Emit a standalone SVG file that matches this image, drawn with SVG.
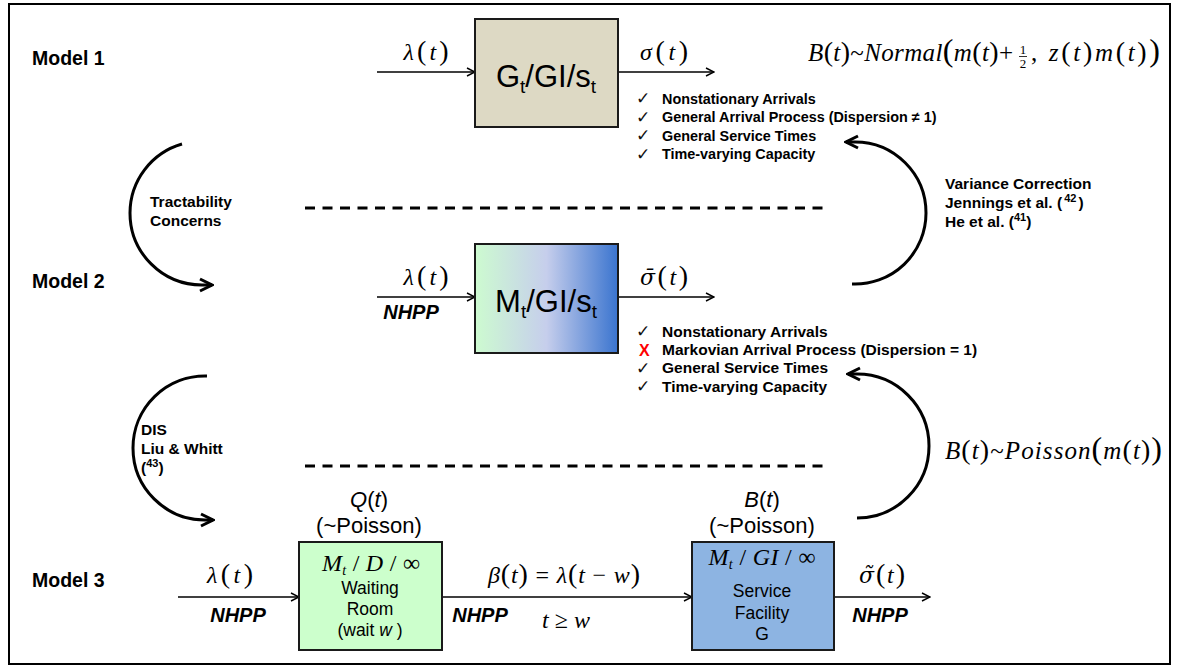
<svg xmlns="http://www.w3.org/2000/svg" width="1180" height="670" viewBox="0 0 1180 670">
<defs>
<style>
.lbl{font-family:"Liberation Sans",Arial,sans-serif;font-weight:bold;font-size:19.5px;fill:#000}
.b{font-family:"Liberation Sans",Arial,sans-serif;font-weight:bold;font-size:15.5px;fill:#000}
.b1{font-family:"Liberation Sans",Arial,sans-serif;font-weight:bold;font-size:14.4px;fill:#000}
.nh{font-family:"Liberation Sans",Arial,sans-serif;font-weight:bold;font-style:italic;font-size:20px;fill:#000}
.m{font-family:"Liberation Serif","Times New Roman",serif;font-size:24px;fill:#000}
.f{font-family:"Liberation Serif","Times New Roman",serif;font-size:25px;fill:#000}
.fr{font-family:"Liberation Serif","Times New Roman",serif;font-size:13px;fill:#000}
.i{font-style:italic}
.p{font-size:28px}
.bp{font-size:32px}
.dv{font-family:"DejaVu Serif",serif;font-size:22px}
.bx{font-family:"Liberation Sans",Arial,sans-serif;font-size:31px;fill:#000}
.s{font-family:"Liberation Sans",Arial,sans-serif;font-size:17.5px;fill:#000}
.pz{font-family:"Liberation Sans",Arial,sans-serif;font-size:22px;fill:#000}
.ck{font-family:"DejaVu Sans",sans-serif;font-size:17px;fill:#111}
.box{stroke:#1a1a1a;stroke-width:2}
.ar{fill:none;stroke:#000;stroke-width:1.5;marker-end:url(#ah)}
.arc{fill:none;stroke:#000;stroke-width:3;marker-end:url(#ahb)}
.dash{stroke:#000;stroke-width:3;stroke-dasharray:10 7.5}
</style>
<marker id="ah" viewBox="0 0 10 10" refX="9" refY="5" markerWidth="10" markerHeight="10" markerUnits="userSpaceOnUse" orient="auto"><path d="M1,1 L9,5 L1,9" fill="none" stroke="#000" stroke-width="1.4"/></marker>
<marker id="ahb" viewBox="0 0 16 16" refX="14" refY="8" markerWidth="16" markerHeight="16" markerUnits="userSpaceOnUse" orient="auto"><path d="M2,2 L14,8 L2,14" fill="none" stroke="#000" stroke-width="3"/></marker>
<linearGradient id="g2" x1="0" y1="0" x2="1" y2="0">
<stop offset="0" stop-color="#CDFBD0"/>
<stop offset="0.5" stop-color="#C6CEEC"/>
<stop offset="1" stop-color="#3A74CF"/>
</linearGradient>
</defs>
<rect x="9" y="4" width="1161" height="660" fill="#fff" stroke="#000" stroke-width="2"/>

<g id="labels">
<text class="lbl" x="32" y="65">Model 1</text>
<text class="lbl" x="32" y="288">Model 2</text>
<text class="lbl" x="32" y="587">Model 3</text>
</g>

<g id="connectors">
<line class="ar" x1="377" y1="72" x2="475" y2="72"/>
<line class="ar" x1="618" y1="72" x2="714" y2="72"/>
<line class="ar" x1="377" y1="297" x2="475" y2="297"/>
<line class="ar" x1="618" y1="297" x2="714" y2="297"/>
<line class="ar" x1="178" y1="597" x2="299" y2="597"/>
<line class="ar" x1="443" y1="597" x2="692" y2="597"/>
<line class="ar" x1="834" y1="597" x2="930" y2="597"/>
<path class="arc" d="M 182 144 A 72 72 0 0 0 130 213 A 72 72 0 0 0 202 285 L 212 285"/>
<path class="arc" d="M 207 376 A 72 72 0 0 0 133 448 A 72 72 0 0 0 205 520 L 213 520"/>
<path class="arc" d="M 852 284 A 71 71 0 0 0 926 213 A 71 71 0 0 0 855 142 L 846 142"/>
<path class="arc" d="M 857 518 A 72 72 0 0 0 929 446 A 72 72 0 0 0 857 374 L 848 374"/>
<line class="dash" x1="305" y1="208" x2="823" y2="208"/>
<line class="dash" x1="305" y1="466" x2="823" y2="466"/>
</g>

<g id="model1">
<rect class="box" x="475" y="19" width="143" height="108" fill="#DDD9C4"/>
<text class="bx" x="546" y="87" text-anchor="middle">G<tspan font-size="19" dy="6">t</tspan><tspan dy="-6">/GI/s</tspan><tspan font-size="19" dy="6">t</tspan></text>
<text class="m" x="426" y="60" text-anchor="middle" textLength="45"><tspan class="i">λ</tspan><tspan class="p">(</tspan><tspan class="i">t</tspan><tspan class="p">)</tspan></text>
<text class="m" x="664" y="60" text-anchor="middle" textLength="48"><tspan class="i">σ</tspan><tspan class="p">(</tspan><tspan class="i">t</tspan><tspan class="p">)</tspan></text>
<text class="f" x="808" y="61" textLength="205"><tspan class="i">B</tspan><tspan class="p">(</tspan><tspan class="i">t</tspan><tspan class="p">)</tspan>~<tspan class="i">Normal</tspan><tspan class="bp">(</tspan><tspan class="i">m</tspan><tspan class="p">(</tspan><tspan class="i">t</tspan><tspan class="p">)</tspan>+</text>
<text class="fr" x="1023" y="54" text-anchor="middle">1</text>
<line x1="1019" y1="56.5" x2="1027" y2="56.5" stroke="#000" stroke-width="0.8"/>
<text class="fr" x="1023" y="68" text-anchor="middle">2</text>
<text class="f" x="1031" y="61" textLength="129">, <tspan class="i">z</tspan><tspan class="p">(</tspan><tspan class="i">t</tspan><tspan class="p">)</tspan><tspan class="i">m</tspan><tspan class="p">(</tspan><tspan class="i">t</tspan><tspan class="p">)</tspan><tspan class="bp">)</tspan></text>
<g id="check1">
<text class="ck" x="636" y="104">✓</text>
<text class="ck" x="636" y="122.5">✓</text>
<text class="ck" x="636" y="141">✓</text>
<text class="ck" x="636" y="159.5">✓</text>
<text class="b1" x="662" y="103.5">Nonstationary Arrivals</text>
<text class="b1" x="662" y="122">General Arrival Process (Dispersion ≠ 1)</text>
<text class="b1" x="662" y="140.5">General Service Times</text>
<text class="b1" x="662" y="159">Time-varying Capacity</text>
</g>
</g>

<g id="tractability">
<text class="b" x="150" y="207">Tractability</text>
<text class="b" x="150" y="226">Concerns</text>
</g>

<g id="variance">
<text class="b" x="945" y="189">Variance Correction</text>
<text class="b" x="945" y="208">Jennings et al. (<tspan font-size="11" dx="2" dy="-6">42</tspan><tspan dx="2" dy="6">)</tspan></text>
<text class="b" x="945" y="227">He et al. (<tspan font-size="11" dy="-6">41</tspan><tspan dy="6">)</tspan></text>
</g>

<g id="model2">
<rect class="box" x="475" y="244" width="143" height="109" fill="url(#g2)"/>
<text class="bx" x="546" y="312" text-anchor="middle">M<tspan font-size="19" dy="6">t</tspan><tspan dy="-6">/GI/s</tspan><tspan font-size="19" dy="6">t</tspan></text>
<text class="m" x="426" y="285" text-anchor="middle" textLength="45"><tspan class="i">λ</tspan><tspan class="p">(</tspan><tspan class="i">t</tspan><tspan class="p">)</tspan></text>
<text class="nh" x="411" y="319" text-anchor="middle">NHPP</text>
<text class="m" x="664" y="285" text-anchor="middle" textLength="48"><tspan class="i dv">σ̄</tspan><tspan class="p">(</tspan><tspan class="i">t</tspan><tspan class="p">)</tspan></text>
<g id="check2">
<text class="ck" x="636" y="337">✓</text>
<text x="639" y="355.5" font-family="Liberation Sans, Arial, sans-serif" font-weight="bold" font-size="16" fill="#FF0000">X</text>
<text class="ck" x="636" y="374">✓</text>
<text class="ck" x="636" y="392">✓</text>
<text class="b" x="662" y="336.5">Nonstationary Arrivals</text>
<text class="b" x="662" y="354.8">Markovian Arrival Process (Dispersion = 1)</text>
<text class="b" x="662" y="373.2">General Service Times</text>
<text class="b" x="662" y="391.5">Time-varying Capacity</text>
</g>
</g>

<g id="dis">
<text class="b" x="141" y="435">DIS</text>
<text class="b" x="141" y="454">Liu &amp; Whitt</text>
<text class="b" x="141" y="473">(<tspan font-size="11" dy="-6">43</tspan><tspan dy="6">)</tspan></text>
</g>

<g id="poisson-formula">
<text class="f" x="945" y="459" textLength="217"><tspan class="i">B</tspan><tspan class="p">(</tspan><tspan class="i">t</tspan><tspan class="p">)</tspan>~<tspan class="i">Poisson</tspan><tspan class="bp">(</tspan><tspan class="i">m</tspan><tspan class="p">(</tspan><tspan class="i">t</tspan><tspan class="p">)</tspan><tspan class="bp">)</tspan></text>
</g>

<g id="model3-input">
<text class="m" x="230" y="583" text-anchor="middle" textLength="46"><tspan class="i">λ</tspan><tspan class="p">(</tspan><tspan class="i">t</tspan><tspan class="p">)</tspan></text>
<text class="nh" x="238" y="622" text-anchor="middle">NHPP</text>
</g>

<g id="waiting-room">
<text class="pz" x="369" y="507" text-anchor="middle"><tspan class="i">Q</tspan>(<tspan class="i">t</tspan>)</text>
<text class="pz" x="369" y="533" text-anchor="middle">(~Poisson)</text>
<rect class="box" x="299" y="542" width="143" height="108" fill="#CCFFCC"/>
<text class="m" x="371" y="571" text-anchor="middle" textLength="98"><tspan class="i">M</tspan><tspan class="i" font-size="14" dy="4">t</tspan><tspan dy="-4"> / </tspan><tspan class="i">D</tspan> / ∞</text>
<text class="s" x="370" y="594" text-anchor="middle">Waiting</text>
<text class="s" x="370" y="615" text-anchor="middle">Room</text>
<text class="s" x="370" y="636" text-anchor="middle">(wait <tspan font-style="italic">w</tspan> )</text>
</g>

<g id="beta">
<text class="m" x="564" y="583" text-anchor="middle" textLength="152"><tspan class="i">β</tspan><tspan class="p">(</tspan><tspan class="i">t</tspan><tspan class="p">)</tspan> = <tspan class="i">λ</tspan><tspan class="p">(</tspan><tspan class="i">t</tspan> − <tspan class="i">w</tspan><tspan class="p">)</tspan></text>
<text class="nh" x="480" y="622" text-anchor="middle">NHPP</text>
<text class="m" x="566" y="628" text-anchor="middle" textLength="48"><tspan class="i">t</tspan> ≥ <tspan class="i">w</tspan></text>
</g>

<g id="service-facility">
<text class="pz" x="762" y="507" text-anchor="middle"><tspan class="i">B</tspan>(<tspan class="i">t</tspan>)</text>
<text class="pz" x="762" y="533" text-anchor="middle">(~Poisson)</text>
<rect class="box" x="692" y="542" width="142" height="108" fill="#8DB4E2"/>
<text class="m" x="762" y="565" text-anchor="middle" textLength="107"><tspan class="i">M</tspan><tspan class="i" font-size="14" dy="4">t</tspan><tspan dy="-4"> / </tspan><tspan class="i">GI</tspan> / ∞</text>
<text class="s" x="762" y="597" text-anchor="middle">Service</text>
<text class="s" x="762" y="619" text-anchor="middle">Facility</text>
<text class="s" x="762" y="640" text-anchor="middle">G</text>
</g>

<g id="output3">
<text class="m" x="882" y="583" text-anchor="middle" textLength="46"><tspan class="i dv">σ̃</tspan><tspan class="p">(</tspan><tspan class="i">t</tspan><tspan class="p">)</tspan></text>
<text class="nh" x="880" y="622" text-anchor="middle">NHPP</text>
</g>
</svg>
